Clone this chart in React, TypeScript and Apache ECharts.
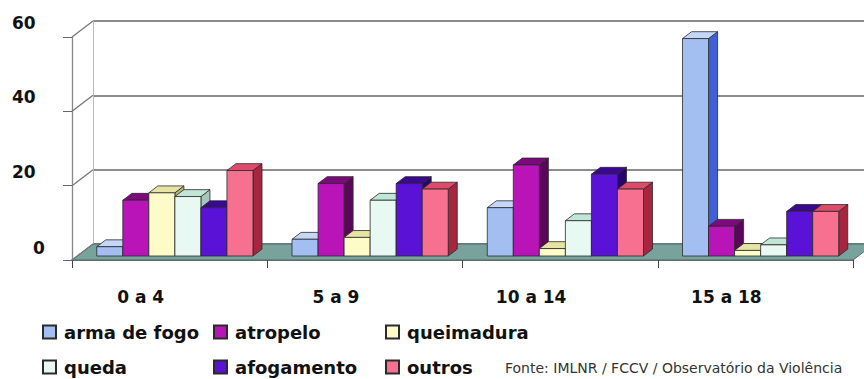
import React, { useEffect, useRef } from 'react';
import * as echarts from 'echarts';

// ---- data ----
const categories = ['0 a 4', '5 a 9', '10 a 14', '15 a 18'];
const seriesNames = ['arma de fogo', 'atropelo', 'queimadura', 'queda', 'afogamento', 'outros'];
const armaDeFogo = [2.5, 4.5, 13, 58.5];
const atropelo = [15, 19.5, 24.5, 8];
const queimadura = [17, 5, 2, 1.5];
const queda = [16, 15, 9.5, 3];
const afogamento = [13, 19.5, 22, 12];
const outros = [23, 18, 18, 12];
const yTicks = [0, 20, 40, 60];
const sourceText = 'Fonte: IMLNR / FCCV / Observatório da Violência';

const seriesValues = [armaDeFogo, atropelo, queimadura, queda, afogamento, outros];

// ---- styles ----
const FONT = 'DejaVu Sans';
const DX = 21;
const DY = -16;
const BAR_FRONT = 0.25;
const BAR_DEPTH = 0.43;
const STROKE = '#2a2a2a';
const faces = [
  { front: '#a3bff2', top: '#c4d7f8', side: '#3f60d6' },
  { front: '#b814b8', top: '#7c0a7c', side: '#5a065a' },
  { front: '#fdfcc8', top: '#e6e4a2', side: '#b6b27c' },
  { front: '#e8f8f2', top: '#bfe6d6', side: '#a6c6ba' },
  { front: '#5a12d6', top: '#3a0892', side: '#28066e' },
  { front: '#f7708f', top: '#de4a6a', side: '#a8253f' },
];
const legendCols = [37, 208, 380];
const legendRows = [318, 353];

const makeBarRender = (si: number) => (params: any, api: any) => {
  const cat = api.value(0);
  const v = api.value(1);
  const base = api.coord([cat, 0]);
  const top = api.coord([cat, v]);
  const band = api.size([1, 0])[0];
  const bw = (band * 0.8) / 6;
  const x = base[0] - 3 * bw + si * bw + DX * BAR_FRONT;
  const yb = base[1] + DY * BAR_FRONT;
  const yt = top[1] + DY * BAR_FRONT;
  const bx = DX * BAR_DEPTH;
  const by = DY * BAR_DEPTH;
  const c = faces[si];
  const st = { stroke: STROKE, lineWidth: 0.8 };
  return {
    type: 'group',
    children: [
      {
        type: 'polygon',
        shape: { points: [[x + bw, yb], [x + bw + bx, yb + by], [x + bw + bx, yt + by], [x + bw, yt]] },
        style: { fill: c.side, ...st },
      },
      {
        type: 'polygon',
        shape: { points: [[x, yt], [x + bw, yt], [x + bw + bx, yt + by], [x + bx, yt + by]] },
        style: { fill: c.top, ...st },
      },
      {
        type: 'rect',
        shape: { x, y: yt, width: bw, height: yb - yt },
        style: { fill: c.front, ...st },
      },
    ],
  };
};

const floorRender = (params: any, api: any) => {
  const band = api.size([1, 0])[0];
  const p0 = api.coord([0, 0]);
  const p1 = api.coord([categories.length - 1, 0]);
  const left = p0[0] - band / 2;
  const right = p1[0] + band / 2;
  const y = p0[1];
  return {
    type: 'polygon',
    shape: { points: [[left, y], [right, y], [right + DX, y + DY], [left + DX, y + DY]] },
    style: { fill: '#78a39d', stroke: '#4d6b67', lineWidth: 1 },
  };
};

const diagRender = (params: any, api: any) => {
  const band = api.size([1, 0])[0];
  const p = api.coord([0, api.value(1)]);
  const left = p[0] - band / 2;
  return {
    type: 'line',
    shape: { x1: left, y1: p[1], x2: left + DX, y2: p[1] + DY },
    style: { stroke: '#777', lineWidth: 1.3 },
  };
};

export default function App() {
  const ref = useRef<HTMLDivElement>(null);
  useEffect(() => {
    if (!ref.current) return;
    const chart = echarts.init(ref.current, null, { renderer: 'svg' });
    const labelStyle = { fontFamily: FONT, fontWeight: 'bold' as const, color: '#111' };
    const legends = seriesNames.map((name, i) => ({
      left: legendCols[i % 3],
      top: legendRows[Math.floor(i / 3)],
      icon: 'rect',
      itemWidth: 13,
      itemHeight: 13,
      data: [name],
      textStyle: { ...labelStyle, fontSize: 18, padding: [0, 0, 0, 3] },
    }));
    const option: any = {
      animation: false,
      textStyle: { fontFamily: FONT },
      title: {
        text: sourceText,
        left: 500,
        top: 356,
        textStyle: { fontFamily: FONT, fontSize: 14, fontWeight: 'normal', color: '#333' },
      },
      legend: legends,
      grid: [
        { left: 72, right: 11, top: 37, bottom: 119 },
        { left: 93, right: -10, top: 21, bottom: 135 },
      ],
      xAxis: [
        {
          type: 'category',
          gridIndex: 0,
          data: categories,
          axisLine: { show: true, lineStyle: { color: '#444', width: 1.5 } },
          axisTick: { show: true, length: 8, interval: 0, lineStyle: { color: '#444' } },
          axisLabel: { ...labelStyle, fontSize: 17, margin: 28, padding: [0, 58, 0, 0], interval: 0 },
          splitLine: { show: false },
        },
        { type: 'category', gridIndex: 1, data: categories, show: false },
      ],
      yAxis: [
        {
          type: 'value',
          gridIndex: 0,
          min: 0,
          max: 60,
          interval: 20,
          axisLine: { show: true, lineStyle: { color: '#888', width: 1.3 } },
          axisTick: { show: true, length: 9, lineStyle: { color: '#666' } },
          axisLabel: { show: false },
          splitLine: { show: false },
        },
        {
          type: 'value',
          gridIndex: 1,
          min: 0,
          max: 60,
          interval: 20,
          axisLine: { show: true, lineStyle: { color: '#bbb' } },
          axisTick: { show: false },
          axisLabel: {
            ...labelStyle,
            fontSize: 17,
            align: 'left',
            margin: 81,
            padding: [4, 0, 0, 0],
            formatter: (v: number) => (v === 0 ? '{z|0}' : String(v)),
            rich: { z: { ...labelStyle, fontSize: 17, padding: [4, 0, 0, 21] } },
          },
          splitLine: { show: true, lineStyle: { color: '#666', width: 1.5 } },
        },
      ],
      series: [
        {
          type: 'custom',
          name: 'floor',
          xAxisIndex: 0,
          yAxisIndex: 0,
          renderItem: floorRender,
          data: [[0, 0]],
          z: 1,
          silent: true,
        },
        {
          type: 'custom',
          name: 'walls',
          xAxisIndex: 0,
          yAxisIndex: 0,
          renderItem: diagRender,
          data: yTicks.map((v) => [0, v]),
          z: 1,
          silent: true,
        },
        ...seriesNames.map((name, si) => ({
          type: 'custom',
          name,
          xAxisIndex: 0,
          yAxisIndex: 0,
          renderItem: makeBarRender(si),
          encode: { x: 0, y: 1 },
          data: categories.map((c, i) => [i, seriesValues[si][i]]),
          itemStyle: { color: faces[si].front, borderColor: STROKE, borderWidth: 1 },
          z: 3,
        })),
      ],
    };
    chart.setOption(option);
    return () => chart.dispose();
  }, []);
  return (
    <div
      ref={ref}
      style={{ position: 'absolute', left: 0, top: 0, width: 864, height: 379, background: '#fff' }}
    />
  );
}
